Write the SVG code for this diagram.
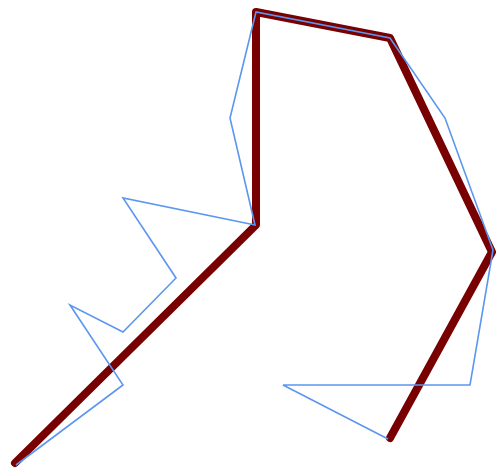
<svg xmlns="http://www.w3.org/2000/svg" width="496" height="474" viewBox="0 0 496 474">
<style>
.thick{fill:none;stroke:#780000;stroke-width:8;stroke-linejoin:round;stroke-linecap:round}
.thin{fill:none;stroke:#5b96f0;stroke-width:1.6;stroke-linejoin:miter}
</style>
<rect width="496" height="474" fill="#ffffff"/>
<polyline class="thick" points="15,463 256,225 256,12 390,38 492,252 390,438"/>
<polyline class="thin" points="16,465 123,385 70,305 123,332 176,278 123,198 255,225 230,118 256,12 390,38 445,118 493,250 470,385 283,385 388,439"/>
</svg>
